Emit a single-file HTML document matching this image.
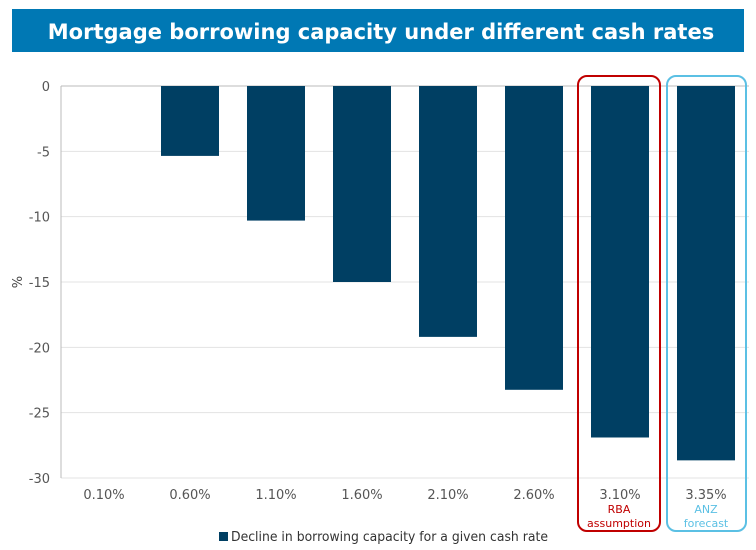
<!DOCTYPE html>
<html><head><meta charset="utf-8"><style>
body{margin:0;background:#fff;}
svg{display:block;font-family:"DejaVu Sans","Liberation Sans",sans-serif;}
</style></head><body>
<svg id="c" width="756" height="550" xmlns="http://www.w3.org/2000/svg">
<rect x="12" y="9" width="732" height="43" fill="#0078b4"/>
<text x="381" y="39" text-anchor="middle" fill="#fff" font-size="21" font-weight="bold">Mortgage borrowing capacity under different cash rates</text>
<g id="grid"></g><g id="bars"></g><g id="labels"></g>
<text x="22" y="282" transform="rotate(-90 22 282)" text-anchor="middle" font-size="13" fill="#444">%</text>
<rect x="578" y="76" width="82" height="455" rx="9" fill="none" stroke="#c00000" stroke-width="2"/>
<text x="619" y="513" text-anchor="middle" font-size="11" fill="#c00000">RBA</text>
<text x="619" y="527" text-anchor="middle" font-size="11" fill="#c00000">assumption</text>
<rect x="667" y="76" width="79" height="455" rx="9" fill="none" stroke="#5bc0e4" stroke-width="2"/>
<text x="706" y="513" text-anchor="middle" font-size="11" fill="#5bc0e4">ANZ</text>
<text x="706" y="527" text-anchor="middle" font-size="11" fill="#5bc0e4">forecast</text>
<rect x="219" y="532" width="9" height="9" fill="#003f63"/>
<text x="231" y="541" font-size="13" fill="#333" textLength="317" lengthAdjust="spacingAndGlyphs">Decline in borrowing capacity for a given cash rate</text>
</svg>
<script>
const categories=["0.10%","0.60%","1.10%","1.60%","2.10%","2.60%","3.10%","3.35%"];
const values=[0,-5.35,-10.3,-15.0,-19.2,-23.25,-26.9,-28.65];
const yTicks=[0,-5,-10,-15,-20,-25,-30];
const NS="http://www.w3.org/2000/svg";
const L=61,R=749,T=86,B=478,yMin=-30,yMax=0;
const y=v=>T+(yMax-v)/(yMax-yMin)*(B-T);
const step=(R-L)/categories.length;
const x=i=>L+step*(i+0.5);
function mk(t,a,p){const e=document.createElementNS(NS,t);for(const k in a)e.setAttribute(k,a[k]);p.appendChild(e);return e;}
const g=document.getElementById('grid'),b=document.getElementById('bars'),lb=document.getElementById('labels');
yTicks.forEach(v=>{
 const l=mk('line',{x1:L,x2:R,y1:y(v),y2:y(v),stroke:v===0?'#bbb':'#e3e3e3','stroke-width':1},g);
 
 
 const t=mk('text',{x:50,y:y(v)+5,'text-anchor':'end','font-size':13,fill:'#555'},lb);
 t.textContent=v;
 
 
});
const ax=mk('line',{x1:L,x2:L,y1:T,y2:B,stroke:'#bbb'},g);


categories.forEach((c,i)=>{
 const v=values[i],w=58;
 const r=mk('rect',{x:x(i)-w/2,y:Math.min(y(0),y(v)),width:w,height:Math.abs(y(v)-y(0)),fill:'#003f63'},b);
 
 
 const t=mk('text',{x:x(i),y:499,'text-anchor':'middle','font-size':13,fill:'#555'},lb);
 t.textContent=c;
 
 
});
</script>
</body></html>
